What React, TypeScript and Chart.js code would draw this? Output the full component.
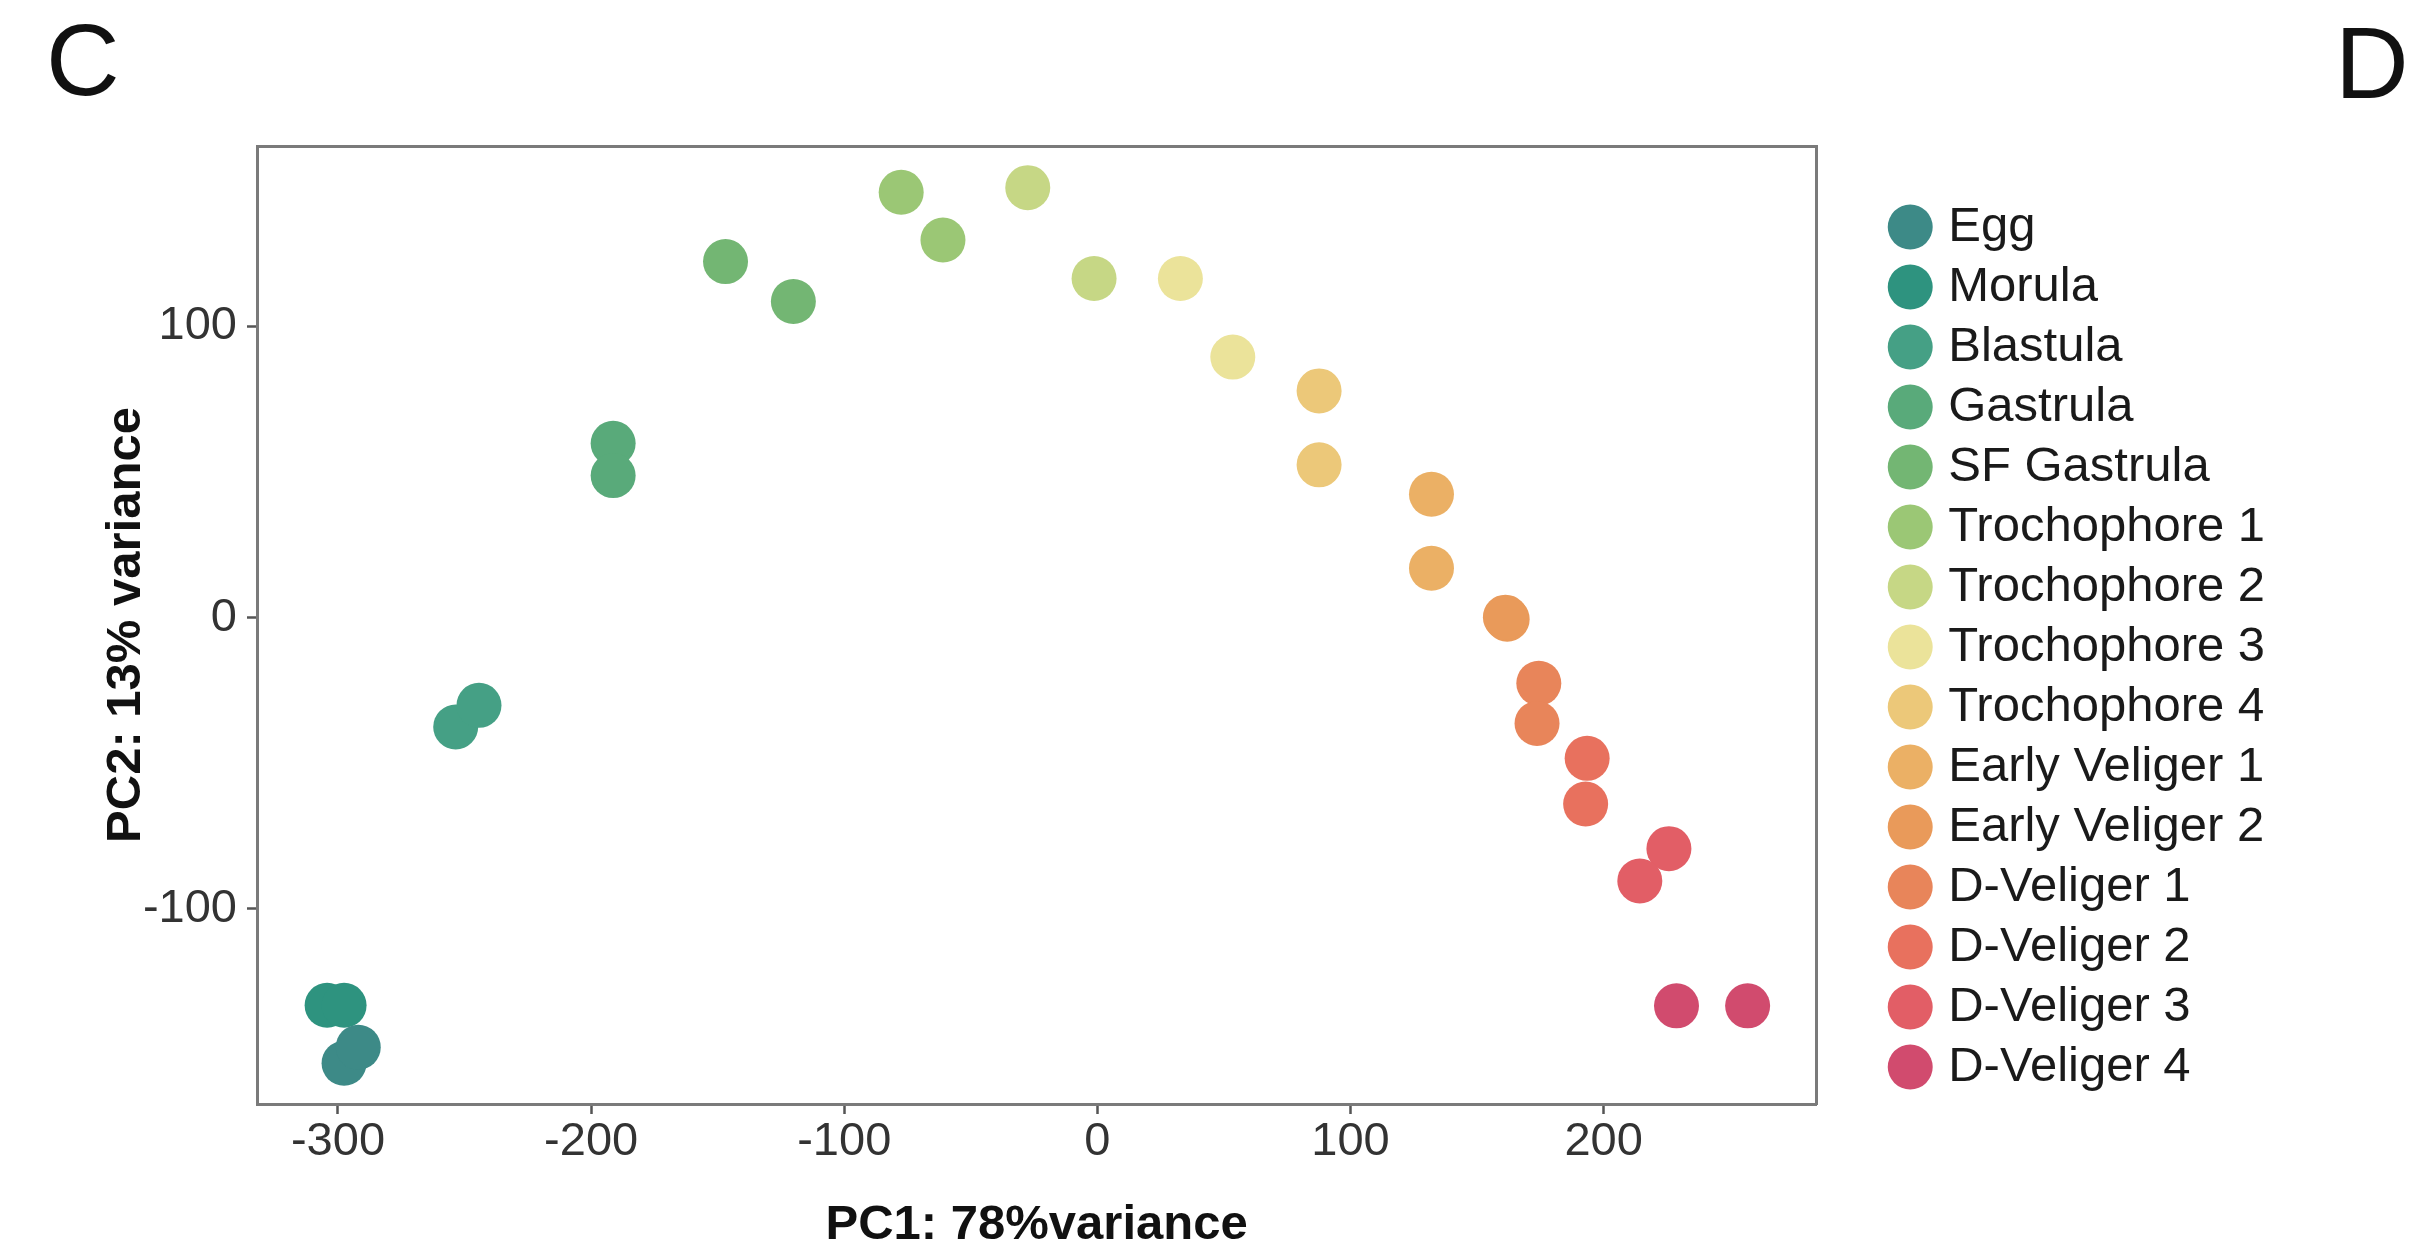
import React, { useEffect, useRef } from "react";
import { Chart, registerables } from "chart.js";

Chart.register(...registerables);

// ---- data ----
const stages = [
  "Egg",
  "Morula",
  "Blastula",
  "Gastrula",
  "SF Gastrula",
  "Trochophore 1",
  "Trochophore 2",
  "Trochophore 3",
  "Trochophore 4",
  "Early Veliger 1",
  "Early Veliger 2",
  "D-Veliger 1",
  "D-Veliger 2",
  "D-Veliger 3",
  "D-Veliger 4",
];

const stageColors = [
  "#3d8a87",
  "#2e937f",
  "#45a085",
  "#59aa7a",
  "#73b673",
  "#9bc775",
  "#c6d785",
  "#ebe39a",
  "#ecc879",
  "#ebb065",
  "#e99a5a",
  "#e8855a",
  "#e8715e",
  "#e25e66",
  "#d14b6e",
];

// PC1 values, two replicates per stage
const pc1 = [
  [-297.6, -292.0],
  [-304.3, -297.6],
  [-253.5, -244.3],
  [-191.3, -191.3],
  [-146.9, -120.1],
  [-77.5, -61.0],
  [-27.5, -1.3],
  [32.8, 53.5],
  [87.6, 87.6],
  [132.0, 132.0],
  [161.9, 161.2],
  [174.4, 173.7],
  [193.5, 192.9],
  [225.8, 214.3],
  [228.8, 256.9],
];

// PC2 values, two replicates per stage
const pc2 = [
  [-153.0, -147.5],
  [-133.1, -133.1],
  [-37.5, -30.1],
  [59.9, 48.8],
  [122.3, 108.6],
  [146.1, 129.7],
  [147.7, 116.5],
  [116.5, 89.5],
  [77.9, 52.5],
  [42.4, 17.0],
  [-0.5, 0.2],
  [-22.5, -36.3],
  [-48.3, -64.0],
  [-79.3, -90.4],
  [-133.3, -133.3],
];

const xTicks = [-300, -200, -100, 0, 100, 200];
const yTicks = [-100, 0, 100];
const xRange = [-332, 284];
const yRange = [-167, 162];

const xTitle = "PC1: 78%variance";
const yTitle = "PC2: 13% variance";

const FONT = "'Liberation Sans', Arial, Helvetica, sans-serif";
const FRAME = "#7a7a7a";

const W = 2413;
const H = 1258;
const LEGEND_FONT = 49;
const LEGEND_PAD = 11;
const LEGEND_BOX_W = 27;
const LEGEND_LEFT = 1883.5;

export default function App() {
  const canvasRef = useRef<HTMLCanvasElement | null>(null);

  useEffect(() => {
    const canvas = canvasRef.current;
    if (!canvas) return;

    // measure the widest legend label to place the legend block
    const mctx = document.createElement("canvas").getContext("2d")!;
    mctx.font = `normal ${LEGEND_FONT}px ${FONT}`;
    const maxText = Math.max(...stages.map((s) => mctx.measureText(s).width));
    const legendWidth = LEGEND_PAD + LEGEND_BOX_W + LEGEND_FONT / 2 + maxText;
    const padRight = Math.max(0, W - LEGEND_LEFT - legendWidth);

    const datasets = stages.map((name, i) => ({
      label: name,
      data: pc1[i].map((x, j) => ({ x, y: pc2[i][j] })),
      backgroundColor: stageColors[i],
      borderColor: stageColors[i],
      pointBackgroundColor: stageColors[i],
      pointBorderColor: stageColors[i],
      pointBorderWidth: 0,
      borderWidth: 0,
      pointRadius: 22.5,
      pointHoverRadius: 22.5,
      pointStyle: "circle" as const,
    }));

    const chart = new Chart(canvas, {
      type: "scatter",
      data: { datasets },
      options: {
        animation: false,
        responsive: false,
        devicePixelRatio: 1,
        events: [],
        layout: { padding: { top: 146, left: 0, bottom: 0, right: padRight } },
        plugins: {
          tooltip: { enabled: false },
          legend: {
            display: true,
            position: "right",
            align: "start",
            title: {
              display: true,
              text: " ",
              font: { size: 10, lineHeight: 1, family: FONT },
              padding: { top: 35.5, bottom: 0 },
            },
            labels: {
              usePointStyle: true,
              pointStyle: "circle",
              boxWidth: LEGEND_BOX_W,
              boxHeight: 31.8,
              padding: LEGEND_PAD,
              color: "#1a1a1a",
              font: { family: FONT, size: LEGEND_FONT, lineHeight: 1 },
            },
          },
        },
        scales: {
          x: {
            type: "linear",
            position: "bottom",
            min: xRange[0],
            max: xRange[1],
            afterFit: (s: any) => {
              s.height = H - 1104;
            },
            afterBuildTicks: (s: any) => {
              s.ticks = xTicks.map((v) => ({ value: v }));
            },
            ticks: {
              includeBounds: false,
              padding: 5,
              color: "#333333",
              font: { family: FONT, size: 47, lineHeight: 1 },
              callback: (v: any) => String(v),
              maxRotation: 0,
              autoSkip: false,
            },
            grid: {
              display: true,
              drawOnChartArea: false,
              drawTicks: true,
              tickLength: 10,
              tickColor: "#555555",
              tickWidth: 2.5,
            },
            border: { display: true, color: FRAME, width: 3 },
            title: {
              display: true,
              text: xTitle,
              color: "#111111",
              font: { family: FONT, size: 49, weight: "bold", lineHeight: 1 },
              padding: { top: 0, bottom: 8.5 },
            },
          },
          y: {
            type: "linear",
            position: "left",
            min: yRange[0],
            max: yRange[1],
            afterFit: (s: any) => {
              s.width = 257;
            },
            afterBuildTicks: (s: any) => {
              s.ticks = yTicks.map((v) => ({ value: v }));
            },
            ticks: {
              includeBounds: false,
              padding: 10,
              color: "#333333",
              font: { family: FONT, size: 47, lineHeight: 1 },
              callback: (v: any) => String(v),
              autoSkip: false,
            },
            grid: {
              display: true,
              drawOnChartArea: false,
              drawTicks: true,
              tickLength: 10,
              tickColor: "#555555",
              tickWidth: 2.5,
            },
            border: { display: true, color: FRAME, width: 3 },
            title: {
              display: true,
              text: yTitle,
              color: "#111111",
              font: { family: FONT, size: 49, weight: "bold", lineHeight: 1 },
              padding: { top: 102, bottom: 0 },
            },
          },
          x2: {
            type: "linear",
            position: "top",
            min: xRange[0],
            max: xRange[1],
            afterFit: (s: any) => {
              s.height = 0;
            },
            ticks: { display: false },
            grid: { display: false, drawOnChartArea: false, drawTicks: false },
            border: { display: true, color: FRAME, width: 3 },
          },
          y2: {
            type: "linear",
            position: "right",
            min: yRange[0],
            max: yRange[1],
            afterFit: (s: any) => {
              s.width = 69.5;
            },
            ticks: { display: false },
            grid: { display: false, drawOnChartArea: false, drawTicks: false },
            border: { display: true, color: FRAME, width: 3 },
          },
        },
      },
    });

    return () => {
      chart.destroy();
    };
  }, []);

  const letterStyle: React.CSSProperties = {
    position: "absolute",
    fontFamily: FONT,
    fontSize: 102,
    lineHeight: 1,
    color: "#111111",
    margin: 0,
  };

  return (
    <div
      style={{
        position: "fixed",
        left: 0,
        top: 0,
        width: W,
        height: H,
        background: "#ffffff",
        overflow: "hidden",
      }}
    >
      <canvas
        ref={canvasRef}
        width={W}
        height={H}
        style={{ display: "block", width: W, height: H }}
      />
      <div style={{ ...letterStyle, left: 46, top: 9 }}>C</div>
      <div style={{ ...letterStyle, left: 2335, top: 12 }}>D</div>
    </div>
  );
}
